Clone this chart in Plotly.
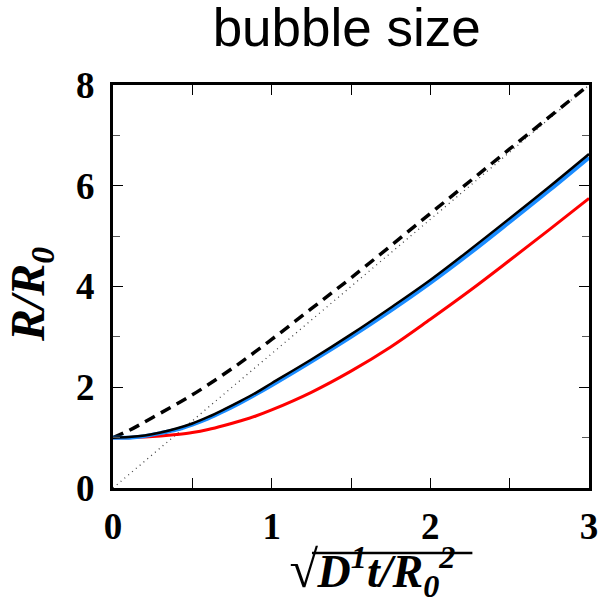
import plotly.graph_objects as go

# data
x_pts = [0, 0.1, 0.2, 0.3, 0.4, 0.5, 0.6, 0.7, 0.8, 0.9, 1.0,
         1.25, 1.5, 1.75, 2.0, 2.25, 2.5, 2.75, 3.0]
black_y = [1.0, 1.01, 1.04, 1.1, 1.18, 1.28, 1.41, 1.56, 1.72, 1.89, 2.08,
           2.55, 3.05, 3.58, 4.13, 4.73, 5.35, 5.98, 6.63]
blue_y = [1.0, 1.0, 1.03, 1.09, 1.16, 1.26, 1.38, 1.53, 1.69, 1.86, 2.04,
          2.51, 3.0, 3.52, 4.07, 4.66, 5.28, 5.91, 6.56]
red_y = [1.0, 1.0, 1.01, 1.03, 1.06, 1.1, 1.16, 1.24, 1.33, 1.43, 1.55,
         1.9, 2.32, 2.8, 3.35, 3.92, 4.52, 5.13, 5.75]
dash_x = [0, 0.1, 0.25, 0.5, 0.75, 1.0, 1.25, 1.5, 2.0, 2.5, 3.0]
dash_y = [1.0, 1.14, 1.4, 1.85, 2.37, 2.95, 3.56, 4.17, 5.45, 6.73, 8.0]
dot_x = [0, 3]
dot_y = [0, 8]

x_ticks = [0, 1, 2, 3]
y_ticks = [0, 2, 4, 6, 8]

fig = go.Figure()
fig.add_trace(go.Scatter(x=dot_x, y=dot_y, mode="lines",
                         line=dict(color="#444444", width=1.3, dash="1px,4px")))
fig.add_trace(go.Scatter(x=dash_x, y=dash_y, mode="lines", line_shape="spline",
                         line=dict(color="black", width=3.5, dash="11px,7px")))
fig.add_trace(go.Scatter(x=x_pts, y=red_y, mode="lines", line_shape="spline",
                         line=dict(color="#ff0000", width=3)))
fig.add_trace(go.Scatter(x=x_pts, y=blue_y, mode="lines", line_shape="spline",
                         line=dict(color="#1a8cff", width=4)))
fig.add_trace(go.Scatter(x=x_pts, y=black_y, mode="lines", line_shape="spline",
                         line=dict(color="black", width=2.5)))

tickfont = dict(family="Liberation Serif", size=37, color="black")

fig.update_layout(
    width=598, height=599,
    margin=dict(l=113, r=9, t=85, b=111),
    paper_bgcolor="white", plot_bgcolor="white",
    showlegend=False,
    title=dict(text="bubble size", x=0.491, xref="paper", xanchor="center",
               y=0.985, yanchor="top",
               font=dict(family="Liberation Sans", size=53, color="black")),
    xaxis=dict(range=[0, 3], tickvals=x_ticks, automargin=False,
               ticktext=[f"<b>{v}</b>" for v in x_ticks],
               showline=True, linewidth=3, linecolor="black", mirror="ticks",
               ticks="inside", ticklen=10, tickwidth=1, tickcolor="black",
               minor=dict(dtick=0.5, ticks="inside", ticklen=10, tickwidth=1, tickcolor="black"),
               showgrid=False, zeroline=False, tickfont=tickfont,
               ticklabelstandoff=4, ticklabeloverflow="allow"),
    yaxis=dict(range=[0, 8], tickvals=y_ticks, automargin=False,
               ticktext=[f"<b>{v}</b>" for v in y_ticks],
               showline=True, linewidth=3, linecolor="black", mirror="ticks",
               ticks="inside", ticklen=10, tickwidth=1, tickcolor="black",
               minor=dict(dtick=1, ticks="inside", ticklen=7, tickwidth=1, tickcolor="#555555"),
               showgrid=False, zeroline=False, tickfont=tickfont,
               ticklabelstandoff=8, ticklabeloverflow="allow"),
)

# axis titles
fig.add_annotation(text="<b><i><span style='font-size:52px'>\u221a</span>D<sup>1</sup>t/R<sub>0</sub><sup>2</sup></i></b>",
                   xref="paper", yref="paper", x=0.545, y=-0.207,
                   xanchor="center", yanchor="middle", showarrow=False,
                   font=dict(family="Liberation Serif", size=46, color="black"))
fig.add_annotation(text="<b><i>R/R<sub>0</sub></i></b>",
                   xref="paper", yref="paper", x=-0.172, y=0.479,
                   xanchor="center", yanchor="middle", showarrow=False,
                   textangle=-90,
                   font=dict(family="Liberation Serif", size=48, color="black"))

# overbar of the square root
fig.add_shape(type="line", xref="paper", yref="paper",
              x0=0.418, x1=0.755, y0=-0.161, y1=-0.161,
              line=dict(color="black", width=2.5))

# remove the default page margin so the figure fills the window exactly
fig.write_html("out.html", config={"displayModeBar": False},
               post_script="document.body.style.margin='0';document.body.style.overflow='hidden';")
